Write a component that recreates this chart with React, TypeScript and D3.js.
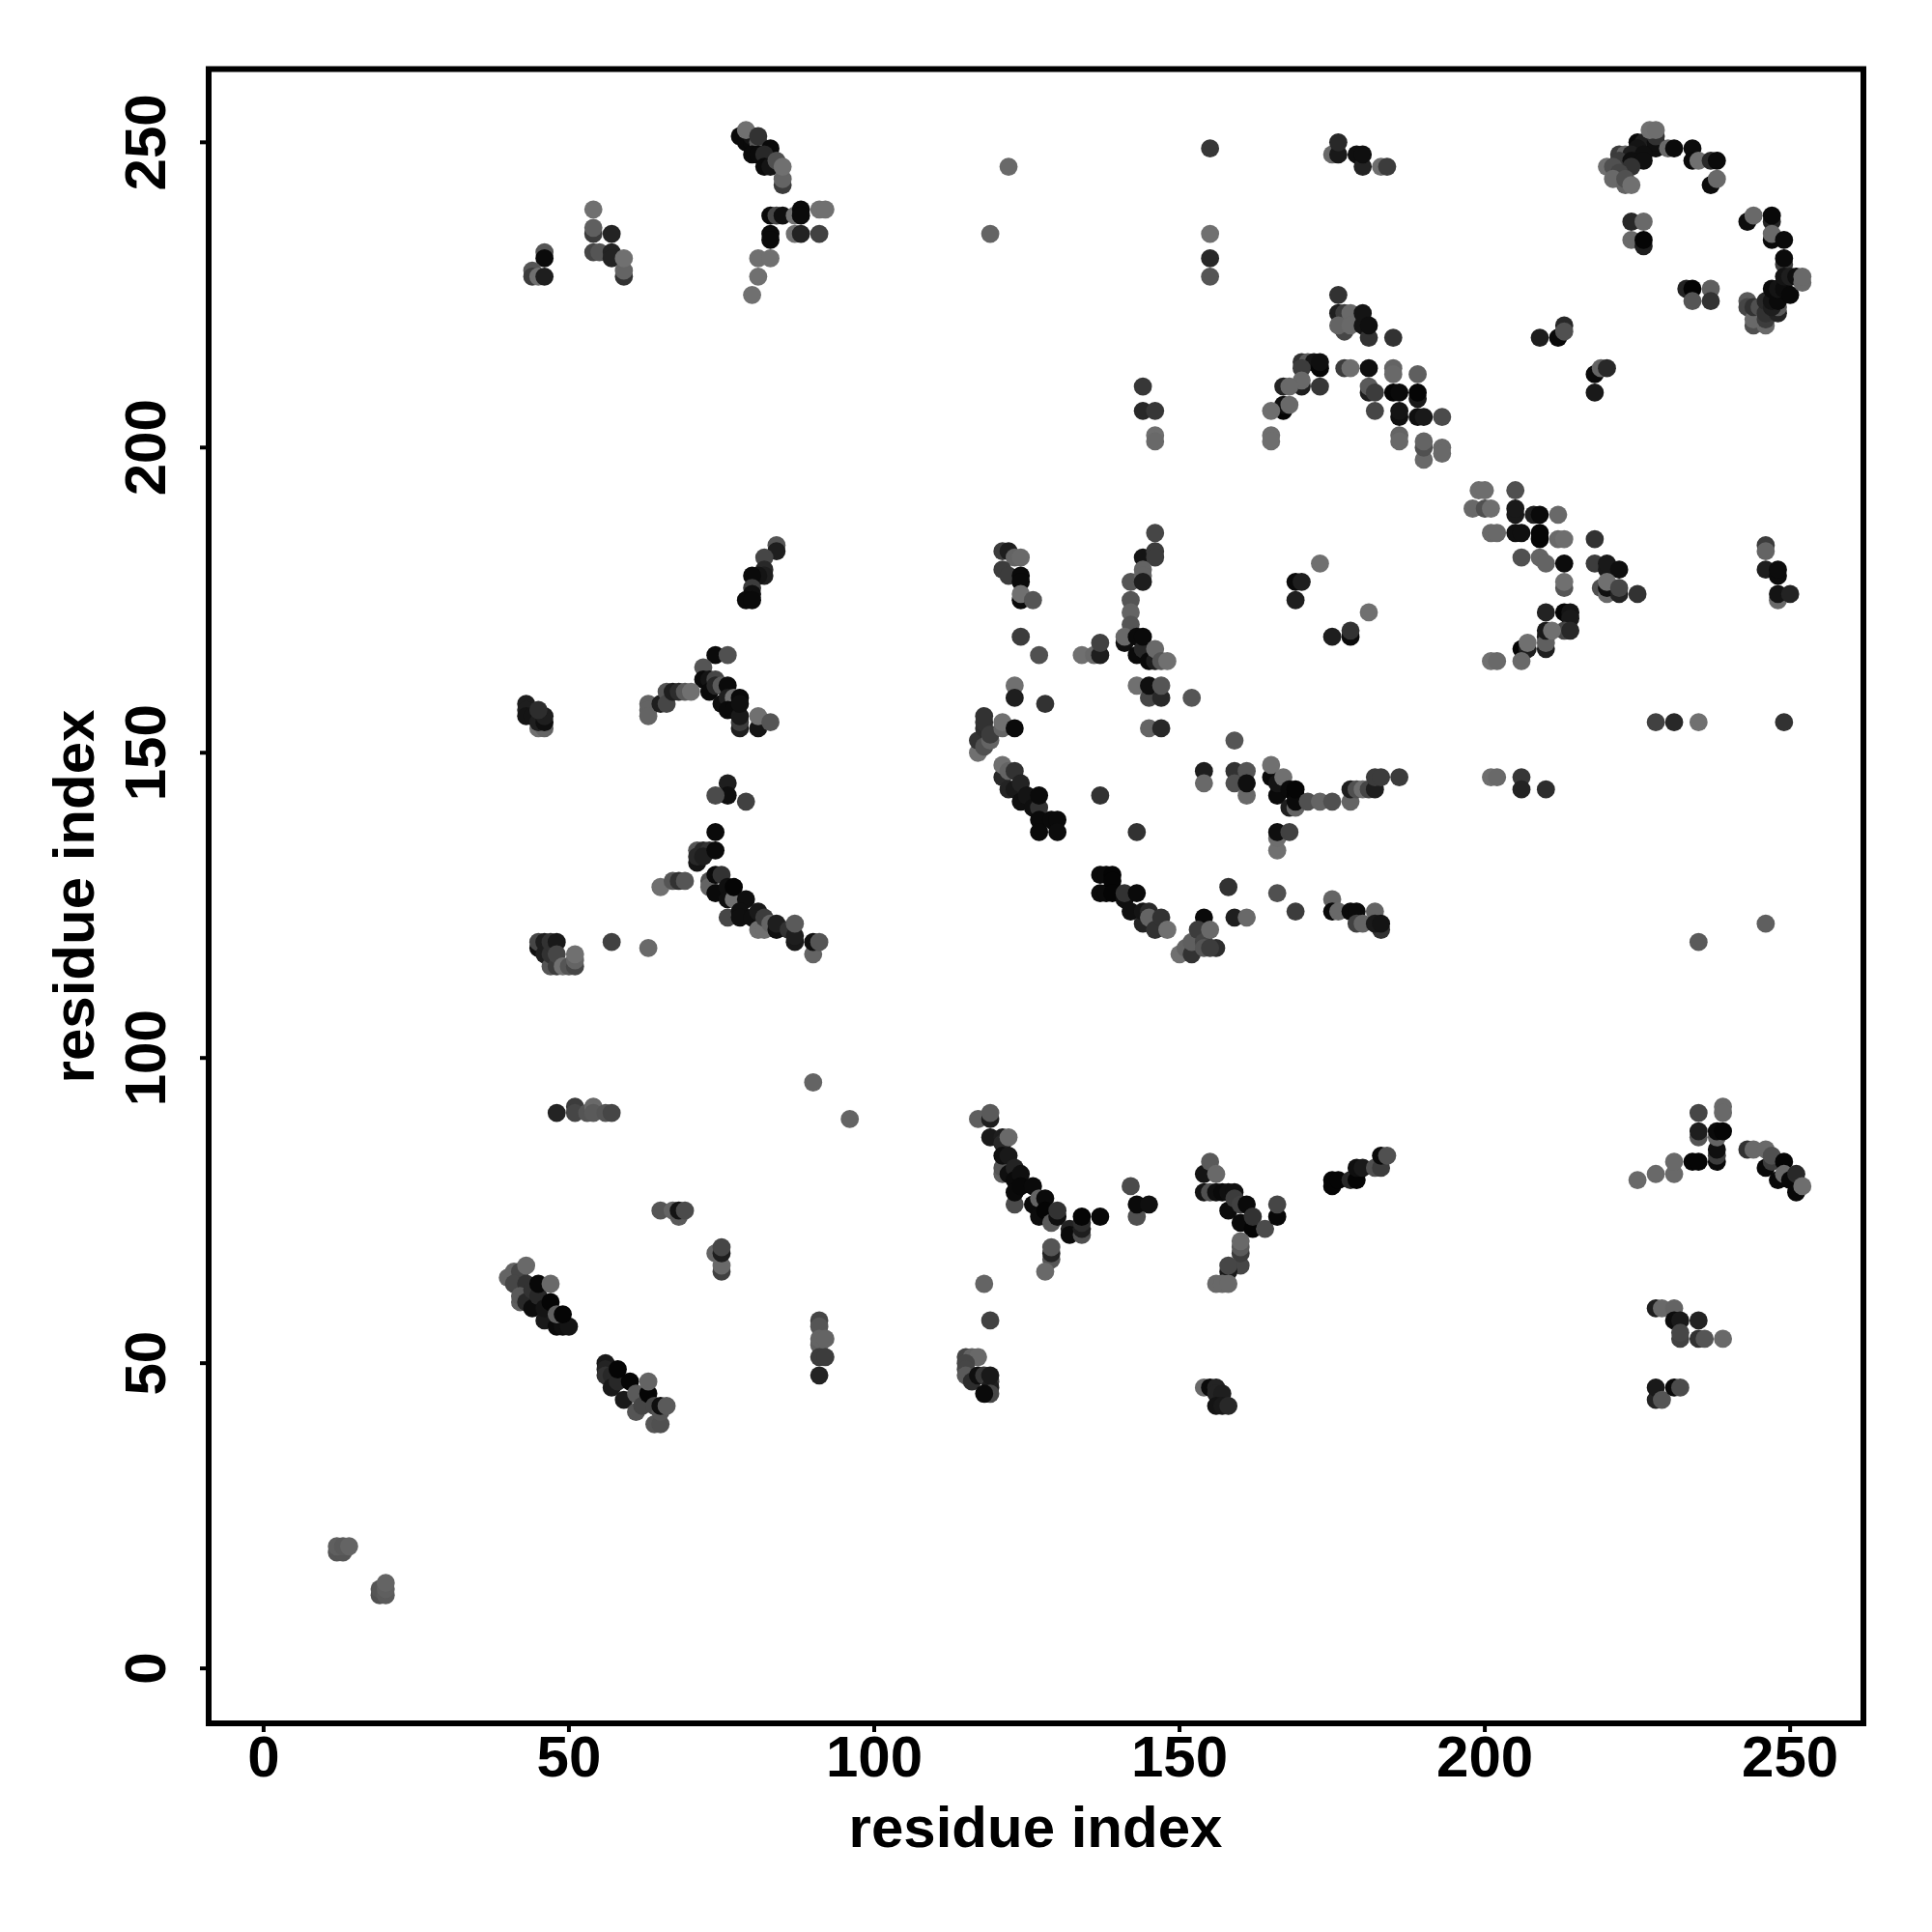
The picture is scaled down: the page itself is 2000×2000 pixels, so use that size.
import React from "react";
import * as d3 from "d3";

type C = [number, number, number]; // residue i, residue j, gray level

const tickValues = [0, 50, 100, 150, 200, 250];
const axisTitle = "residue index";

const farCorner: C[] = [[12,19,85],[13,19,85],[12,20,95],[13,20,90],[14,20,100],[19,12,80],[19,13,85],[20,12,90],[20,13,95],[20,14,100]];

const topLeft: C[] = [
[46,232,85],[46,231,10],[44,229,85],[44,228,60],[45,228,112],[46,228,30],
[54,239,112],[54,235,60],[54,236,95],[57,235,35],[54,232,70],[55,232,85],[57,232,35],[57,231,35],[59,228,50],[59,229,100],[59,231,112],
[78,251,10],[79,250,10],[80,250,10],[80,251,20],[79,252,112],[81,249,35],[81,250,90],[81,251,50],[80,248,10],[81,248,10],[83,249,10],[82,248,40],[82,246,10],[83,246,20],[84,247,80],[85,243,60],[85,244,100],[85,246,112],
[83,238,10],[84,238,70],[85,238,15],[87,238,112],[88,239,10],[88,238,10],[91,239,112],[92,239,112],
[83,235,10],[83,234,10],[87,235,112],[88,235,35],[91,235,65],
[81,231,112],[83,231,112],[81,228,112],[80,225,112],
];

const topMiddle: C[] = [
[122,246,105],[119,235,100],[155,249,55],[155,235,112],[155,231,40],[155,228,85],
[144,210,55],[144,206,40],[146,206,55],[146,202,110],[146,201,105],
[175,248,105],[176,248,25],[176,250,40],[179,248,15],[180,246,35],[180,248,15],[183,246,110],[184,246,60],
[176,225,50],[176,222,30],[177,219,70],[177,222,60],[176,220,100],[178,222,105],[178,220,105],[180,220,20],[180,222,20],[181,218,50],[181,220,15],[185,218,50],
[170,214,50],[171,214,90],[172,214,20],[173,213,5],[173,214,15],[170,213,60],[173,210,55],[170,210,30],[170,211,105],[167,210,35],[168,210,105],
[167,206,5],[167,207,15],[168,207,105],[165,206,110],[165,202,110],[165,201,110],
[177,213,60],[178,213,110],[181,213,15],[185,213,100],[185,212,105],[189,212,95],
[181,209,30],[181,210,90],[182,209,60],[182,206,70],
[185,209,5],[186,209,10],[189,208,25],[189,209,5],[186,205,15],[186,206,20],[189,205,15],[190,205,25],[193,205,75],
[186,202,100],[186,201,105],[190,198,105],[190,200,80],[190,201,100],[193,200,105],[193,199,105],
];

const topRight: C[] = [
[199,193,110],[200,193,110],[198,190,105],[200,190,80],[201,190,110],[205,193,80],[205,189,25],[205,190,25],[208,189,30],[209,189,10],[212,189,105],
[201,186,105],[202,186,105],[205,186,15],[206,186,15],[209,185,5],[209,186,5],[212,185,105],[213,185,110],[218,185,50],
[206,182,80],[209,182,100],[210,181,100],[213,181,12],[213,177,85],[213,178,112],
[218,181,60],[220,180,25],[220,181,25],[222,180,15],[219,177,80],[220,176,105],[220,177,15],[220,178,112],[222,176,35],[222,177,70],[225,176,50],
[246,184,60],[246,183,100],[246,180,30],[248,179,12],[248,180,12],[248,175,105],[248,176,20],[250,176,35],
[225,250,10],[226,250,30],[225,249,20],[228,249,15],[228,250,15],[228,251,50],[227,252,112],[228,252,110],
[222,248,60],[223,248,100],[224,248,30],[226,248,15],[222,247,60],[224,247,15],[226,247,15],[220,246,112],[221,246,80],[224,246,50],[222,245,70],[221,244,105],[223,243,100],[223,244,80],[224,243,112],
[230,249,105],[231,249,10],[234,249,12],[234,247,10],[235,247,112],[237,247,40],[238,247,10],[237,243,12],[238,244,105],
[224,237,40],[226,237,105],[224,234,105],[226,233,30],[226,234,5],
[243,237,12],[244,238,105],[247,237,35],[247,238,8],[247,234,10],[247,235,105],[249,234,10],[249,230,60],[249,231,10],
[243,224,90],[243,223,70],[244,220,80],[244,221,105],[244,223,50],[245,223,80],[246,220,105],[246,221,60],[246,222,50],[246,224,40],
[248,222,35],[248,223,90],[247,223,30],[247,224,20],[248,224,10],[247,226,10],[248,226,20],[249,226,12],[250,225,8],[249,228,20],[250,228,30],[251,228,15],[252,227,105],[252,228,105],
[233,226,35],[234,226,3],[237,226,95],[234,224,85],[237,224,50],
[209,218,30],[212,218,8],[213,220,40],[213,219,80],[218,212,10],[219,213,100],[220,213,40],[218,209,25],
];

const midLeft: C[] = [
[84,184,85],[84,183,30],[82,182,70],[82,180,40],[82,179,30],[81,179,20],[80,179,10],[80,177,60],[80,176,15],[79,175,10],[80,175,10],
[74,166,10],[76,166,80],[72,164,85],[72,162,10],[73,162,20],[74,162,70],[73,160,10],[74,161,40],[75,161,90],[76,161,10],[75,158,15],[76,159,30],[77,159,112],[76,157,10],[77,157,10],[78,159,10],[78,154,30],[78,155,60],[78,156,25],[78,158,15],
[81,154,20],[81,156,112],[83,155,85],
[45,154,112],[46,154,100],[43,158,30],[43,157,30],[43,156,20],[44,156,20],[45,155,30],[46,155,15],[46,156,30],[45,157,45],
[63,158,100],[63,157,100],[63,156,100],[65,158,30],[66,160,85],[66,158,70],[67,160,30],[68,160,45],[69,160,90],[70,160,112],
[76,145,30],[76,143,15],[74,143,75],[79,142,65],
[74,137,10],[71,134,85],[72,134,40],[73,134,50],[71,132,20],[71,133,40],[72,133,30],[74,134,10],
[73,129,80],[73,128,100],[74,127,10],[74,130,10],[75,130,50],[76,128,15],[76,126,15],[77,126,112],[77,128,5],[79,126,15],
[76,123,70],[78,124,15],[78,123,15],[80,123,15],[81,121,112],[82,121,112],[81,124,25],[82,123,60],[83,122,100],[84,121,15],[84,122,30],[86,121,50],[87,119,25],[87,120,30],[87,122,90],[90,117,100],[90,119,15],[91,119,85],
[65,128,112],[67,129,85],[68,129,50],[69,129,85],
[57,119,65],[63,118,105],
[45,118,15],[45,119,70],[46,117,30],[46,119,30],[47,115,85],[47,117,50],[47,119,50],[48,119,25],[48,115,60],[48,117,70],[49,115,112],[50,115,85],[51,115,70],[51,116,100],[51,117,112],
];

const centre: C[] = [
[121,183,60],[122,183,30],[123,182,100],[124,182,105],[121,180,60],[122,179,60],[124,179,10],[124,178,10],[124,175,10],[124,176,112],[126,175,85],[124,169,60],[127,166,80],
[134,166,112],[136,166,105],[137,166,30],[137,168,65],
[146,186,70],[144,182,20],[146,183,60],[146,182,60],[142,178,85],[144,180,100],[144,179,100],[144,178,30],[142,175,85],[142,173,100],[142,171,85],
[141,168,15],[141,169,105],[143,166,10],[143,169,10],[144,167,40],[144,169,10],[145,165,10],[146,165,30],[146,167,105],[147,165,85],[148,165,112],
[143,161,112],[145,159,70],[145,161,15],[147,159,40],[147,161,85],[152,159,85],[123,161,112],[123,159,30],[128,158,50],[145,154,100],[147,154,40],
[117,150,112],[117,152,50],[118,151,80],[118,154,45],[118,155,50],[118,156,50],[119,152,100],[119,153,60],[121,154,100],[121,155,112],[123,154,10],
[121,146,40],[121,148,112],[122,147,100],[123,147,50],[122,144,35],[123,144,25],[124,145,35],[124,142,15],[125,143,20],[126,141,15],[127,141,50],[127,143,10],[127,139,10],[127,137,10],[129,139,10],[130,139,10],[130,137,12],
[137,143,50],[143,137,50],
[137,130,10],[137,127,10],[138,130,10],[138,127,10],[139,130,5],[139,129,5],[139,127,5],[141,126,15],[141,127,50],[143,127,10],[142,124,15],[144,122,35],[144,124,20],[145,124,40],[145,123,100],[146,121,50],[147,123,50],[148,121,112],
[154,123,10],[150,117,112],[151,118,100],[152,117,50],[152,119,95],[153,121,60],[154,119,70],[156,118,45],[154,118,85],[155,118,60],[155,121,105],
[158,128,50],[159,123,30],[161,123,105],
[154,147,30],[154,145,105],[159,152,85],[159,147,50],[161,147,85],[159,145,80],[161,143,105],[161,145,15],
[165,146,10],[165,148,112],[166,143,10],[166,145,20],[167,146,112],[168,141,30],[169,141,100],[168,144,10],[169,143,5],[169,142,10],[169,144,5],[171,142,80],[173,142,100],[175,142,80],
[178,142,100],[178,144,30],[179,144,80],[180,144,110],[181,144,70],[182,144,30],[182,146,60],[183,146,60],[186,146,60],
[166,134,112],[166,136,110],[166,137,15],[168,137,65],[166,127,80],[169,124,60],
[175,126,100],[175,124,10],[176,124,105],[178,124,10],[179,124,10],[179,122,65],[180,122,100],[182,124,100],[183,121,50],[182,122,25],[183,122,20],
[173,181,112],[169,178,10],[170,178,30],[169,175,30],[181,173,112],[175,169,30],[178,169,10],[178,170,50],
];

const midRight: C[] = [
[210,173,35],[213,173,5],[214,173,20],[214,172,25],[210,167,30],[210,169,30],[210,168,95],[210,170,25],[213,170,70],[214,170,40],[211,170,112],
[206,167,5],[207,167,30],[207,168,112],[206,165,105],[201,165,112],[202,165,105],
[228,155,65],[231,155,40],[235,155,112],[249,155,50],
[201,146,110],[202,146,105],[206,146,55],[206,144,35],[210,144,45],
[235,119,90],[246,122,95],
];

const lowerLeft: C[] = [
[48,91,35],[51,92,60],[51,91,70],[53,91,85],[54,92,105],[54,91,90],[56,91,85],[57,91,70],
[90,96,100],[96,90,100],
[65,75,85],[67,75,100],[68,74,90],[68,75,20],[69,75,75],
[74,68,100],[75,65,65],[75,66,105],[75,68,30],[75,69,70],
[91,57,70],[91,56,85],[91,53,95],[91,54,100],[92,54,100],[91,51,60],[92,51,60],[91,48,35],
[41,65,100],[40,64,100],[42,65,70],[41,63,70],[43,63,50],[42,60,95],[42,61,90],[43,60,40],[44,59,12],[44,62,50],[43,66,105],[45,61,40],[45,63,8],[47,63,105],[46,57,25],[46,59,20],[47,60,5],[48,56,10],[49,56,15],[50,56,20],[48,58,95],[49,58,5],
[56,50,25],[56,49,35],[56,48,50],[57,48,40],[57,46,25],[58,47,40],[58,49,5],[59,44,25],[60,47,5],[61,42,85],[61,45,90],[62,43,70],[63,45,5],[63,47,100],[64,40,85],[65,40,80],[64,43,70],[65,42,85],[65,43,15],[66,43,90],
];

const lowerMiddle: C[] = [
[117,90,95],[119,90,30],[119,91,90],[119,87,25],[121,87,30],[121,86,40],[122,87,105],
[121,81,95],[121,82,85],[121,84,15],[122,84,25],[122,81,15],[123,82,35],[123,80,10],[123,76,75],[123,78,10],[124,81,15],[124,79,8],[126,79,10],[126,76,10],[127,77,100],[128,77,10],[127,74,12],[128,75,5],[129,73,90],[130,74,15],[130,75,50],[132,72,35],[132,71,10],[134,71,80],[134,72,30],[134,73,45],[134,74,5],[137,74,8],
[129,67,85],[129,68,35],[129,69,85],[128,65,105],
[142,79,75],[143,74,80],[143,76,10],[145,76,15],
[154,81,20],[155,83,90],[156,81,105],[154,78,20],[155,78,80],[156,78,15],[157,78,10],[158,78,15],[159,78,15],[158,75,12],[159,77,60],[160,76,65],[161,76,10],[160,73,10],[162,72,5],[162,74,50],[164,72,75],[166,74,8],[166,76,70],
[160,66,70],[160,68,60],[160,69,90],[160,70,105],[158,65,25],[158,66,70],[156,63,105],[157,63,105],[158,63,105],
[175,80,5],[175,79,5],[176,80,5],[178,80,40],[179,80,5],[179,82,15],[180,82,25],[182,82,80],[183,82,60],[183,84,10],[184,84,80],
[118,63,100],[119,57,65],
[115,51,70],[116,51,100],[117,51,105],[115,50,70],[115,49,70],[115,48,90],[116,47,45],[117,48,15],[118,48,55],[119,47,60],[119,46,30],[119,48,25],[119,45,70],[118,45,10],
[154,46,105],[155,46,10],[156,46,35],[156,45,35],[157,45,30],[156,43,20],[157,43,25],[158,43,40],
];

const lowerRight: C[] = [
[225,80,105],[228,81,105],[231,81,105],[231,83,105],[234,83,5],[235,83,5],
[235,91,70],[235,87,85],[235,88,30],[239,92,105],[239,91,105],[238,83,10],[238,84,60],[238,85,15],[238,87,100],[238,88,10],[239,88,5],
[243,85,50],[244,85,105],[246,82,8],[246,85,105],[247,83,60],[247,84,80],[249,83,5],[248,80,8],[249,81,105],[250,80,8],[251,78,8],[251,81,40],[252,79,110],
[228,59,30],[229,59,105],[231,59,100],[231,57,12],[232,57,25],[235,57,35],[232,54,65],[232,55,70],[235,54,50],[236,54,85],[239,54,105],
[228,44,35],[228,46,25],[229,44,85],[231,46,10],[232,46,75],
];

const contacts: C[] = [...farCorner, ...lowerLeft, ...lowerMiddle, ...lowerRight, ...midLeft, ...centre, ...midRight, ...topLeft, ...topMiddle, ...topRight];

export default function App() {
  const x = d3.scaleLinear().domain([-9, 262]).range([216, 1929]);
  const y = d3.scaleLinear().domain([-9, 262]).range([1784, 71.5]);
  const font = { fontFamily: "'Liberation Sans', Arial, sans-serif", fontWeight: 700, fontSize: 60 };
  return (
    <svg width={2000} height={2000} viewBox="0 0 2000 2000" style={{ position: "absolute", left: 0, top: 0, background: "#fff" }}>
      {contacts.map(([i, j, g], k) => (
        <circle key={k} cx={x(i)} cy={y(j)} r={9.4} fill={d3.rgb(g, g, g).formatHex()} />
      ))}
      <rect x={x(-9)} y={y(262)} width={x(262) - x(-9)} height={y(-9) - y(262)} fill="none" stroke="#000" strokeWidth={6} />
      {tickValues.map((t) => (
        <g key={t}>
          <line x1={x(t)} x2={x(t)} y1={1784} y2={1793} stroke="#000" strokeWidth={4} />
          <text x={x(t)} y={1839} textAnchor="middle" {...font}>{t}</text>
          <line x1={207} x2={216} y1={y(t)} y2={y(t)} stroke="#000" strokeWidth={4} />
          <text transform={`translate(171,${y(t)}) rotate(-90)`} textAnchor="middle" {...font}>{t}</text>
        </g>
      ))}
      <text x={1072} y={1912} textAnchor="middle" {...font}>{axisTitle}</text>
      <text transform="translate(97,928) rotate(-90)" textAnchor="middle" {...font}>{axisTitle}</text>
    </svg>
  );
}
